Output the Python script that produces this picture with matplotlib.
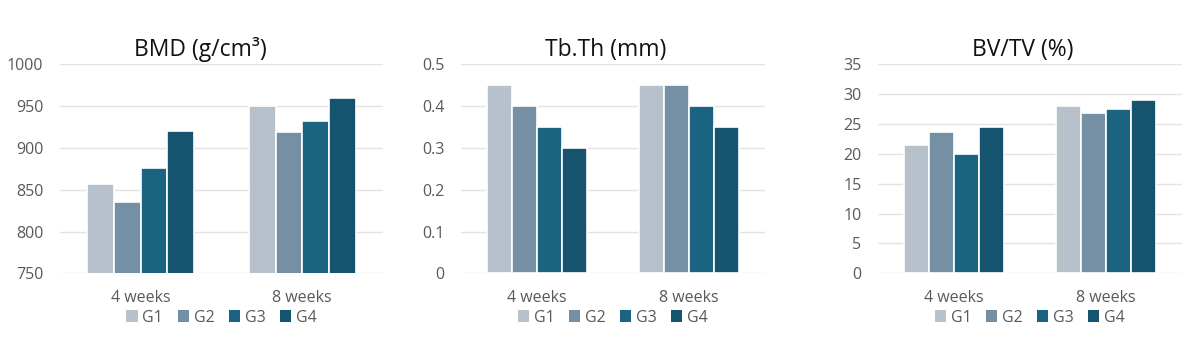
import matplotlib
matplotlib.use("Agg")
import matplotlib.pyplot as plt
import numpy as np
from matplotlib.patches import Patch

plt.rcParams['font.family'] = ['Open Sans', 'DejaVu Sans']

categories = ["4 weeks", "8 weeks"]
groups = ["G1", "G2", "G3", "G4"]
colors = ["#b6c1cb", "#758fa5", "#1a6482", "#15536e"]

bmd = {"G1": [857, 950], "G2": [835, 919], "G3": [876, 932], "G4": [920, 960]}
tbth = {"G1": [0.45, 0.45], "G2": [0.40, 0.45], "G3": [0.35, 0.40], "G4": [0.30, 0.35]}
bvtv = {"G1": [21.5, 28.0], "G2": [23.6, 26.8], "G3": [20.0, 27.5], "G4": [24.5, 29.0]}

panels = [
    ("BMD (g/cm³)", bmd, (750, 1000), [750, 800, 850, 900, 950, 1000], ["750", "800", "850", "900", "950", "1000"]),
    ("Tb.Th (mm)", tbth, (0, 0.5), [0, 0.1, 0.2, 0.3, 0.4, 0.5], ["0", "0.1", "0.2", "0.3", "0.4", "0.5"]),
    ("BV/TV (%)", bvtv, (0, 35), [0, 5, 10, 15, 20, 25, 30, 35], ["0", "5", "10", "15", "20", "25", "30", "35"]),
]

W, H = 1196, 348
fig = plt.figure(figsize=(W / 100, H / 100), dpi=100)
axes_px = [(60, 383), (461, 765), (878, 1182)]
title_x_px = [200, 606, 1023]
top_px, bot_px = 64.3, 273.3

grey = "#595959"
for (title, data, ylim, yt, ytl), (l, r), tx in zip(panels, axes_px, title_x_px):
    ax = fig.add_axes([l / W, 1 - bot_px / H, (r - l) / W, (bot_px - top_px) / H])
    x = np.arange(len(categories))
    bw = 0.165
    for i, g in enumerate(groups):
        ax.bar(x + (i - 1.5) * bw, data[g], width=bw,
               color=colors[i], edgecolor="white", linewidth=1.2, zorder=3)
    ax.set_ylim(*ylim)
    ax.set_xlim(-0.5, 1.5)
    ax.set_yticks(yt)
    ax.set_yticklabels(ytl)
    ax.set_xticks(x)
    ax.set_xticklabels(categories)
    for s in ax.spines.values():
        s.set_visible(False)
    ax.grid(axis="y", color="#e3e3e3", linewidth=1, zorder=0)
    ax.tick_params(axis="both", length=0, labelsize=11.5, colors=grey)
    ax.tick_params(axis="y", pad=12)
    ax.tick_params(axis="x", pad=12)
    fig.text(tx / W, 1 - 50 / H, title, fontsize=16.5, color="#111111", ha="center", va="center")
    handles = [Patch(facecolor=c, edgecolor="none") for c in colors]
    ax.legend(handles, groups, loc="upper center", bbox_to_anchor=(0.5, -0.135), ncol=4,
              frameon=False, fontsize=11.5, labelcolor=grey, handlelength=0.7, handleheight=0.7,
              handletextpad=0.3, columnspacing=0.9, borderpad=0)

fig.savefig("out.png", dpi=100, facecolor="white")
